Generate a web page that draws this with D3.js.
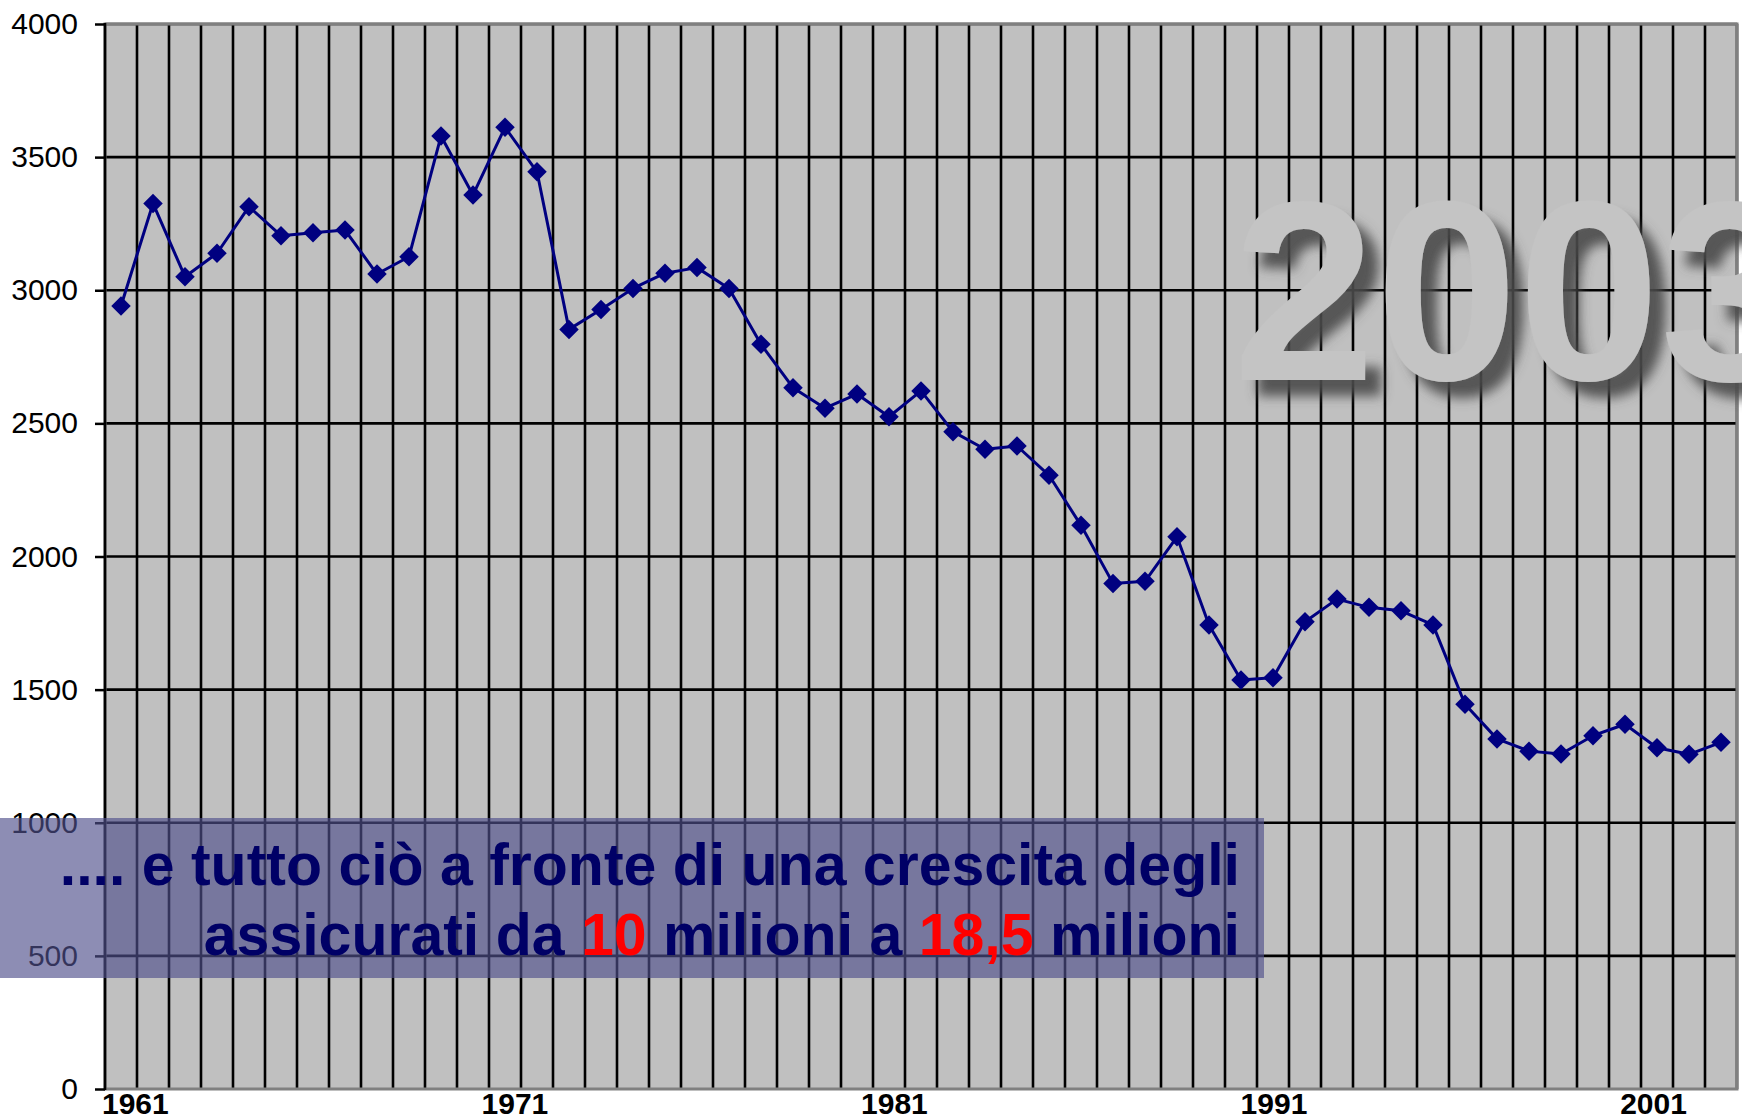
<!DOCTYPE html>
<html>
<head>
<meta charset="utf-8">
<script src="https://cdn.jsdelivr.net/npm/d3@7"></script>
<style>
  html, body { margin: 0; padding: 0; background: #ffffff; }
  svg { display: block; }
</style>
</head>
<body>
<svg id="chart" width="1742" height="1117"></svg>
<script>
// ---- data ----
const values = [2941, 3326, 3051, 3139, 3314, 3205, 3216, 3226, 3061, 3126,
                3579, 3358, 3612, 3445, 2853, 2928, 3007, 3064, 3085, 3007,
                2797, 2634, 2557, 2610, 2525, 2622, 2469, 2403, 2415, 2305,
                2117, 1899, 1907, 2074, 1743, 1536, 1545, 1755, 1840, 1809,
                1796, 1743, 1445, 1315, 1269, 1258, 1327, 1370, 1282, 1257, 1302];
const categories = d3.range(values.length);
const yTicks = [0, 500, 1000, 1500, 2000, 2500, 3000, 3500, 4000];
const yearLabels = [1961, 1971, 1981, 1991, 2001];
const yearDomain = [1961, 2004];
const bigTitle = "2003";
const line1 = ".... e tutto ciò a fronte di una crescita degli";
const line2Parts = [
  {t: "assicurati da ", red: false},
  {t: "10", red: true},
  {t: " milioni a ", red: false},
  {t: "18,5", red: true},
  {t: " milioni", red: false}
];

// ---- layout ----
const L = 105, R = 1737, T = 24, B = 1089;
const font = "'Liberation Sans', Arial, Helvetica, sans-serif";

const svg = d3.select("#chart");

const x = d3.scaleBand().domain(categories).range([L, R]).paddingInner(0).paddingOuter(0);
const y = d3.scaleLinear().domain([0, 4000]).range([B, T]);
const yr = d3.scaleLinear().domain(yearDomain).range([L, R]);

// defs: shadow for big title
const defs = svg.append("defs");
const f = defs.append("filter").attr("id", "shadow")
  .attr("x", "-20%").attr("y", "-20%").attr("width", "140%").attr("height", "140%");
f.append("feGaussianBlur").attr("in", "SourceAlpha").attr("stdDeviation", 6).attr("result", "blur");
f.append("feOffset").attr("in", "blur").attr("dx", 16).attr("dy", 16).attr("result", "off");
f.append("feFlood").attr("flood-color", "#4a4a4a").attr("flood-opacity", 0.9).attr("result", "col");
f.append("feComposite").attr("in", "col").attr("in2", "off").attr("operator", "in").attr("result", "sh");
const fm = f.append("feMerge");
fm.append("feMergeNode").attr("in", "sh");
fm.append("feMergeNode").attr("in", "SourceGraphic");

// plot background
svg.append("rect").attr("x", L).attr("y", T).attr("width", R - L).attr("height", B - T)
  .attr("fill", "#c0c0c0");

// vertical gridlines at category boundaries
const vBounds = categories.map(c => x(c)).concat([x(categories[categories.length - 1]) + x.bandwidth()]);
svg.append("g").selectAll("line").data(vBounds.slice(1)).join("line")
  .attr("x1", d => d).attr("x2", d => d).attr("y1", T).attr("y2", B)
  .attr("stroke", "#000").attr("stroke-width", 2.6);

// horizontal gridlines
svg.append("g").selectAll("line").data(yTicks.filter(v => v > 0)).join("line")
  .attr("x1", L).attr("x2", R).attr("y1", d => y(d)).attr("y2", d => y(d))
  .attr("stroke", "#000").attr("stroke-width", 2.6);

// plot border (gray)
svg.append("rect").attr("x", L).attr("y", T).attr("width", R - L).attr("height", B - T)
  .attr("fill", "none").attr("stroke", "#808080").attr("stroke-width", 3);

// y axis
const yAxis = d3.axisLeft(y).tickValues(yTicks).tickSize(10).tickPadding(17).tickFormat(d3.format("d"));
const gy = svg.append("g").attr("transform", `translate(${L},0)`).call(yAxis);
gy.select(".domain").remove();
gy.selectAll(".tick line").attr("stroke", "#000").attr("stroke-width", 2.5);
gy.selectAll(".tick text").attr("font-family", font).attr("font-size", 30).attr("fill", "#000");
svg.append("line").attr("x1", L).attr("x2", L).attr("y1", T - 1).attr("y2", B + 1)
  .attr("stroke", "#000").attr("stroke-width", 2.6);

// x labels
svg.append("g").selectAll("text").data(yearLabels).join("text")
  .attr("x", d => yr(d) - 3).attr("y", 1114)
  .attr("font-family", font).attr("font-size", 30).attr("font-weight", "bold")
  .attr("fill", "#000").text(d => d);

// series
const cx = c => x(c) + x.bandwidth() / 2;
svg.append("path").datum(values)
  .attr("d", d3.line().x((d, i) => cx(categories[i])).y(d => y(d)))
  .attr("fill", "none").attr("stroke", "#000080").attr("stroke-width", 3).attr("stroke-linejoin", "round");
svg.append("g").selectAll("path").data(values).join("path")
  .attr("d", d3.symbol(d3.symbolSquare, 190))
  .attr("transform", (d, i) => `translate(${cx(categories[i])},${y(d)}) rotate(45)`)
  .attr("fill", "#000080");

// big title
svg.append("text").attr("x", 1233).attr("y", 380)
  .attr("font-family", font).attr("font-size", 256).attr("font-weight", "bold")
  .attr("fill", "#c4c4c4").attr("filter", "url(#shadow)").text(bigTitle);

// overlay box
svg.append("rect").attr("x", 0).attr("y", 818).attr("width", 1264).attr("height", 160)
  .attr("fill", "rgb(80,80,140)").attr("fill-opacity", 0.65);

svg.append("text").attr("x", 1240).attr("y", 885).attr("text-anchor", "end")
  .attr("font-family", font).attr("font-size", 59).attr("font-weight", "bold")
  .attr("fill", "#000066").text(line1);

const t2 = svg.append("text").attr("x", 1240).attr("y", 955).attr("text-anchor", "end")
  .attr("font-family", font).attr("font-size", 59).attr("font-weight", "bold")
  .attr("style", "white-space:pre");
t2.selectAll("tspan").data(line2Parts).join("tspan")
  .attr("fill", d => d.red ? "#ff0000" : "#000066")
  .text(d => d.t);
</script>
</body>
</html>
